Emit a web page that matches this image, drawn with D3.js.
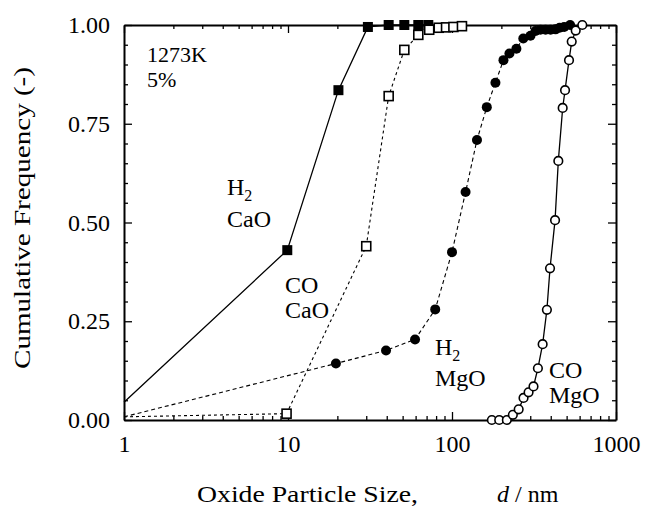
<!DOCTYPE html>
<html>
<head>
<meta charset="utf-8">
<script src="https://cdn.jsdelivr.net/npm/d3@7/dist/d3.min.js"></script>
<style>
  body { margin: 0; background: #fff; }
  svg { display: block; font-family: 'Liberation Serif', 'Times New Roman', serif; }
</style>
</head>
<body>
<svg id="chart"></svg>
<script>
// oxide particle size d (nm) and cumulative frequency
const h2CaoSize = [1, 9.9, 20.3, 30.7, 41.1, 51.2, 62.3, 71.7];
const h2CaoFreq = [0.045, 0.43, 0.835, 0.995, 1, 1, 1, 1];

const coCaoSize = [1, 9.8, 30, 41.1, 51.2, 62.3, 72.6, 83, 92, 102, 115];
const coCaoFreq = [0.008, 0.016, 0.44, 0.82, 0.937, 0.975, 0.988, 0.993, 0.994, 0.995, 0.997];

const h2MgoSize = [1, 19.6, 39.6, 59.5, 79, 100, 121, 142, 163, 184, 206, 224, 247,
  272, 301, 323, 346, 372, 399, 428, 453, 483, 525];
const h2MgoFreq = [0.008, 0.143, 0.176, 0.204, 0.28, 0.425, 0.577, 0.709, 0.792, 0.854,
  0.911, 0.928, 0.94, 0.966, 0.973, 0.985, 0.988, 0.988, 0.988, 0.989, 0.993, 0.995, 1.0];

const coMgoSize = [175, 194, 216, 235, 255, 273, 293, 314, 334, 357, 379, 396, 425,
  445, 473, 489, 517, 537, 568, 623];
const coMgoFreq = [0, 0, 0, 0.013, 0.027, 0.056, 0.07, 0.085, 0.131, 0.192, 0.279,
  0.384, 0.506, 0.656, 0.79, 0.835, 0.911, 0.958, 0.986, 1.0];

const xMajorTicks = [1, 10, 100, 1000];
const yMajorTicks = [0, 0.25, 0.5, 0.75, 1];

class CumulativeChart {
  constructor(_config, _series) {
    this.config = {
      parentElement: _config.parentElement,
      margin: _config.margin,
      width: _config.width - _config.margin.left - _config.margin.right,
      height: _config.height - _config.margin.top - _config.margin.bottom,
    };
    this.series = _series;
    this.initVis();
  }

  initVis() {
    const vis = this;
    const { width, height, margin, parentElement } = vis.config;

    vis.svg = d3.select(parentElement)
      .attr('width', width + margin.left + margin.right)
      .attr('height', height + margin.top + margin.bottom);

    vis.chart = vis.svg.append('g')
      .attr('transform', `translate(${margin.left},${margin.top})`);

    vis.xScale = d3.scaleLog().domain([1, 1000]).range([0, width]);
    vis.yScale = d3.scaleLinear().domain([0, 1]).range([height, 0]);

    // minor ticks: 2..9 in each decade, every 0.05 on y
    const xMinor = [];
    [1, 10, 100].forEach((dec) => {
      for (let k = 2; k <= 9; k += 1) xMinor.push(k * dec);
    });
    const yMinor = d3.range(1, 20).map((i) => i * 0.05).filter((v, i) => (i + 1) % 5 !== 0);

    vis._drawAxes(xMinor, yMinor);
    vis.renderVis();
    vis._drawLabels();
  }

  _drawAxes(xMinor, yMinor) {
    const vis = this;
    const { width, height } = vis.config;
    const major = 8;
    const minor = 4;

    const axes = [
      { fn: d3.axisBottom, scale: vis.xScale, pos: `translate(0,${height})`, major: xMajorTicks, minor: xMinor, labels: true, fmt: d3.format('d') },
      { fn: d3.axisTop, scale: vis.xScale, pos: 'translate(0,0)', major: xMajorTicks, minor: xMinor, labels: false },
      { fn: d3.axisLeft, scale: vis.yScale, pos: 'translate(0,0)', major: yMajorTicks, minor: yMinor, labels: true, fmt: d3.format('.2f') },
      { fn: d3.axisRight, scale: vis.yScale, pos: `translate(${width},0)`, major: yMajorTicks, minor: yMinor, labels: false },
    ];

    axes.forEach((a) => {
      const gMinor = vis.chart.append('g')
        .attr('transform', a.pos)
        .call(a.fn(a.scale).tickValues(a.minor).tickFormat('').tickSizeInner(-minor).tickSizeOuter(0));
      gMinor.select('.domain').remove();

      const g = vis.chart.append('g')
        .attr('class', 'axis')
        .attr('transform', a.pos)
        .call(a.fn(a.scale)
          .tickValues(a.major)
          .tickFormat(a.labels ? a.fmt : '')
          .tickSizeInner(-major)
          .tickSizeOuter(0)
          .tickPadding(a.fn === d3.axisBottom ? 15 : 14));
      g.select('.domain').attr('stroke-width', 2);
      g.selectAll('text')
        .attr('font-family', "'Liberation Serif', serif")
        .attr('font-size', 24)
        .attr('fill', '#000');
      vis.chart.selectAll('.tick line').attr('stroke-width', 1.3);
    });
  }

  renderVis() {
    const vis = this;
    const { xScale, yScale } = vis;

    const line = d3.line()
      .x((d) => xScale(d[0]))
      .y((d) => yScale(d[1]));

    vis.series.forEach((s) => {
      const pts = s.size.map((d, i) => [d, s.freq[i]]);

      vis.chart.append('path')
        .datum(pts)
        .attr('d', line)
        .attr('fill', 'none')
        .attr('stroke', '#000')
        .attr('stroke-width', s.dash ? 1.1 : 1.3)
        .attr('stroke-dasharray', s.dash);

      const marks = pts.slice(s.markFrom);
      if (s.shape === 'square') {
        const sz = s.filled ? 10 : 9;
        vis.chart.selectAll(null)
          .data(marks)
          .join('rect')
          .attr('x', (d) => xScale(d[0]) - sz / 2)
          .attr('y', (d) => yScale(d[1]) - sz / 2)
          .attr('width', sz)
          .attr('height', sz)
          .attr('fill', s.filled ? '#000' : '#fff')
          .attr('stroke', '#000')
          .attr('stroke-width', s.filled ? 0 : 1.6);
      } else {
        vis.chart.selectAll(null)
          .data(marks)
          .join('circle')
          .attr('cx', (d) => xScale(d[0]))
          .attr('cy', (d) => yScale(d[1]))
          .attr('r', s.filled ? 5 : 4.3)
          .attr('fill', s.filled ? '#000' : '#fff')
          .attr('stroke', '#000')
          .attr('stroke-width', s.filled ? 0 : 1.6);
      }
    });
  }

  _drawLabels() {
    const vis = this;
    const { margin } = vis.config;
    const svg = vis.svg;

    // axis titles
    svg.append('text')
      .attr('transform', 'translate(30,218) rotate(-90)')
      .attr('text-anchor', 'middle')
      .attr('font-size', 24)
      .attr('textLength', 302)
      .attr('lengthAdjust', 'spacingAndGlyphs')
      .text('Cumulative  Frequency  (-)');

    svg.append('text')
      .attr('x', 197)
      .attr('y', 502)
      .attr('font-size', 24)
      .attr('textLength', 221)
      .attr('lengthAdjust', 'spacingAndGlyphs')
      .text('Oxide Particle Size,');

    const unit = svg.append('text')
      .attr('x', 497)
      .attr('y', 502)
      .attr('font-size', 24);
    unit.append('tspan').attr('font-style', 'italic').text('d');
    unit.append('tspan').text(' / nm');

    // condition note
    svg.append('text').attr('x', 147).attr('y', 62).attr('font-size', 22).text('1273K');
    svg.append('text').attr('x', 147).attr('y', 87).attr('font-size', 22).text('5%');

    // curve labels: [gas, oxide, x, gasBaseline, oxideBaseline]
    const curveLabels = [
      ['H', 'CaO', 227, 195, 227],
      ['CO', 'CaO', 285, 293, 318],
      ['H', 'MgO', 435, 355, 386],
      ['CO', 'MgO', 549, 378, 403],
    ];
    curveLabels.forEach(([gas, oxide, x, y1, y2]) => {
      const t = svg.append('text').attr('x', x).attr('y', y1).attr('font-size', 24);
      t.append('tspan').text(gas);
      if (gas === 'H') {
        t.append('tspan').attr('font-size', 16).attr('dy', 6).text('2');
      }
      svg.append('text').attr('x', x).attr('y', y2).attr('font-size', 24).text(oxide);
    });
    return margin;
  }
}

const series = [
  { size: h2CaoSize, freq: h2CaoFreq, shape: 'square', filled: true, dash: null, markFrom: 1 },
  { size: coCaoSize, freq: coCaoFreq, shape: 'square', filled: false, dash: '3,3', markFrom: 1 },
  { size: h2MgoSize, freq: h2MgoFreq, shape: 'circle', filled: true, dash: '4,3', markFrom: 1 },
  { size: coMgoSize, freq: coMgoFreq, shape: 'circle', filled: false, dash: null, markFrom: 0 },
];

new CumulativeChart({
  parentElement: '#chart',
  width: 660,
  height: 511,
  margin: { top: 25, right: 44, bottom: 91, left: 124 },
}, series);
</script>
</body>
</html>
